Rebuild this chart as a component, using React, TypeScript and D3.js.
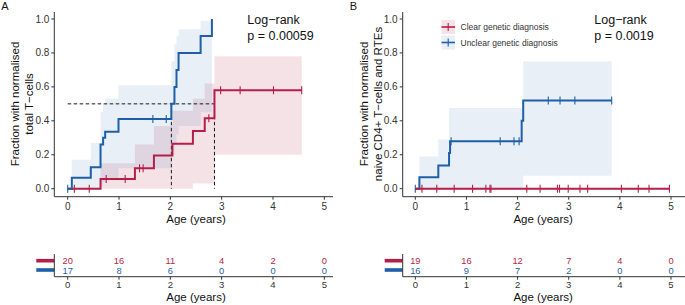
import * as d3 from "d3";

const RED = "#B51E48";
const BLUE = "#1E5FA8";
const FONT = "'Liberation Sans', Arial, Helvetica, sans-serif";

const ageTicks = [0, 1, 2, 3, 4, 5];
const fracTicks = [0, 0.2, 0.4, 0.6, 0.8, 1.0];

// Panel A: total T-cells
const aUnclearTimes = [0, 0.08, 0.45, 0.64, 0.69, 0.73, 0.99, 2.02, 2.08, 2.12, 2.16, 2.59, 2.81];
const aUnclearCum = [0, 0.065, 0.126, 0.26, 0.3, 0.335, 0.41, 0.5, 0.6, 0.7, 0.8, 0.9, 1.0];
const aUnclearUpper = [0, 0.17, 0.27, 0.45, 0.5, 0.53, 0.61, 0.75, 0.85, 0.9, 0.94, 0.99, 0.99];
const aUnclearLower = [0, 0, 0, 0.02, 0.04, 0.06, 0.12, 0.2, 0.27, 0.32, 0.37, 0.45, 0.45];
const aUnclearCensor = [0, 1.66, 1.92];

const aClearTimes = [0, 0.64, 1.31, 1.68, 2.04, 2.44, 2.67, 2.86, 4.56];
const aClearCum = [0, 0.057, 0.12, 0.195, 0.265, 0.34, 0.415, 0.58, 0.58];
const aClearUpper = [0, 0.15, 0.26, 0.37, 0.46, 0.53, 0.62, 0.78, 0.78];
const aClearLower = [0, 0, 0, 0, 0, 0.03, 0.03, 0.2, 0.2];
const aClearCensor = [0.13, 0.42, 0.75, 1.12, 1.4, 1.47, 2.75, 2.98, 3.36, 4.01, 4.56];

const aMedians = [2.02, 2.86];
const aRiskClear = [20, 16, 11, 4, 2, 0];
const aRiskUnclear = [17, 8, 6, 0, 0, 0];

// Panel B: naive CD4+ T-cells and RTEs
const bUnclearTimes = [0, 0.08, 0.45, 0.66, 0.68, 2.08, 2.11, 3.84];
const bUnclearCum = [0, 0.067, 0.136, 0.21, 0.28, 0.4, 0.52, 0.52];
const bUnclearUpper = [0, 0.19, 0.29, 0.475, 0.475, 0.475, 0.75, 0.75];
const bUnclearLower = [0, 0, 0, 0, 0, 0, 0.077, 0.077];
const bUnclearCensor = [0, 0.7, 1.66, 1.93, 2.03, 2.6, 2.83, 3.12, 3.84];

const bClearTimes = [0, 4.97];
const bClearCum = [0, 0];
const bClearCensor = [0.13, 0.42, 0.76, 1.12, 1.38, 1.46, 1.48, 2.18, 2.44, 2.78, 2.82, 2.99, 3.22, 3.37, 4.03, 4.36, 4.57, 4.97];

const bRiskClear = [19, 16, 12, 7, 4, 0];
const bRiskUnclear = [16, 9, 7, 2, 0, 0];

type Curve = {
  times: number[];
  cum: number[];
  upper?: number[];
  lower?: number[];
  censor: number[];
  color: string;
  bandOpacity?: number;
};

function stepValue(times: number[], cum: number[], t: number) {
  let v = cum[0];
  for (let i = 0; i < times.length; i++) if (times[i] <= t) v = cum[i];
  return v;
}

interface PanelProps {
  label: string;
  axisX: number;
  x0: number;
  x5: number;
  axisEnd: number;
  title: string[];
  pvalue: string;
  curves: Curve[];
  medians?: number[];
  riskClear: number[];
  riskUnclear: number[];
  legend?: boolean;
}

function Panel(p: PanelProps) {
  const x = d3.scaleLinear().domain([0, 5]).range([p.x0, p.x5]);
  const y = d3.scaleLinear().domain([0, 1]).range([188.7, 19]);
  const axisY = 196.7;

  const line = d3
    .line<[number, number]>()
    .x((d) => x(d[0]))
    .y((d) => y(d[1]))
    .curve(d3.curveStepAfter);
  const area = d3
    .area<[number, number, number]>()
    .x((d) => x(d[0]))
    .y0((d) => y(d[1]))
    .y1((d) => y(d[2]))
    .curve(d3.curveStepAfter);

  const tableAxisY = 276.7;

  return (
    <g fontFamily={FONT}>
      <text x={p.axisX - 53} y={10} fontSize={11} fill="#111">
        {p.label}
      </text>

      {/* confidence bands */}
      {p.curves.map((c, i) =>
        c.upper && c.lower ? (
          <path
            key={"b" + i}
            d={area(c.times.map((t, j) => [t, c.lower![j], c.upper![j]])) || ""}
            fill={c.color}
            fillOpacity={c.bandOpacity ?? 0.1}
            stroke="none"
          />
        ) : null,
      )}

      {/* median lines */}
      {p.medians && (
        <g stroke="#000" strokeWidth={0.9} strokeDasharray="3.5,2.5" fill="none">
          <line x1={x(0)} x2={x(d3.max(p.medians)!)} y1={y(0.5)} y2={y(0.5)} />
          {p.medians.map((m, i) => (
            <line key={i} x1={x(m)} x2={x(m)} y1={y(0.5)} y2={y(0)} />
          ))}
        </g>
      )}

      {/* curves */}
      {p.curves.map((c, i) => (
        <g key={"c" + i}>
          <path
            d={line(c.times.map((t, j) => [t, c.cum[j]])) || ""}
            fill="none"
            stroke={c.color}
            strokeWidth={2}
          />
          {c.censor.map((t, j) => {
            const v = stepValue(c.times, c.cum, t);
            return (
              <line
                key={j}
                x1={x(t)}
                x2={x(t)}
                y1={y(v) - 4}
                y2={y(v) + 4}
                stroke={c.color}
                strokeWidth={1.1}
              />
            );
          })}
        </g>
      ))}

      {/* axes */}
      <g stroke="#333" strokeWidth={1} fill="none">
        <line x1={p.axisX} x2={p.axisX} y1={12} y2={axisY} />
        <line x1={p.axisX} x2={p.axisEnd} y1={axisY} y2={axisY} />
        {fracTicks.map((t) => (
          <line key={t} x1={p.axisX - 3} x2={p.axisX} y1={y(t)} y2={y(t)} />
        ))}
        {ageTicks.map((t) => (
          <line key={t} x1={x(t)} x2={x(t)} y1={axisY} y2={axisY + 3} />
        ))}
      </g>
      <g fontSize={10} fill="#333">
        {fracTicks.map((t) => (
          <text key={t} x={p.axisX - 5} y={y(t) + 3.5} textAnchor="end">
            {t.toFixed(1)}
          </text>
        ))}
        {ageTicks.map((t) => (
          <text key={t} x={x(t)} y={axisY + 13} textAnchor="middle">
            {t}
          </text>
        ))}
      </g>
      <text x={(p.x0 + p.x5) / 2} y={223} fontSize={11.5} textAnchor="middle" fill="#111">
        Age (years)
      </text>
      <g fontSize={11.5} textAnchor="middle" fill="#111">
        {p.title.map((s, i) => (
          <text
            key={i}
            transform={`translate(${p.axisX - 35 + i * 14},104) rotate(-90)`}
          >
            {s}
          </text>
        ))}
      </g>

      {/* log-rank */}
      <text x={x(3.5)} y={23.5} fontSize={12.5} fill="#111">
        Log−rank
      </text>
      <text x={x(3.5)} y={39.5} fontSize={12.5} fill="#111">
        {p.pvalue}
      </text>

      {p.legend && (
        <g fontSize={8.5}>
          {[
            { c: RED, t: "Clear genetic diagnosis", yy: 27, o: 0.13 },
            { c: BLUE, t: "Unclear genetic diagnosis", yy: 42.5, o: 0.1 },
          ].map((l) => (
            <g key={l.t}>
              <rect x={441.5} y={l.yy - 7} width={13.5} height={14} fill={l.c} fillOpacity={l.o} />
              <line x1={441.5} x2={455} y1={l.yy} y2={l.yy} stroke={l.c} strokeWidth={1.6} />
              <line x1={448.2} x2={448.2} y1={l.yy - 4} y2={l.yy + 4} stroke={l.c} strokeWidth={1.1} />
              <text x={460.5} y={l.yy + 3} fill="#333">
                {l.t}
              </text>
            </g>
          ))}
        </g>
      )}

      {/* risk table */}
      <rect x={p.axisX - 18} y={258.9} width={18} height={3.6} fill={RED} />
      <rect x={p.axisX - 18} y={268.2} width={18} height={3.6} fill={BLUE} />
      <g stroke="#333" strokeWidth={1}>
        <line x1={p.axisX} x2={p.axisX} y1={254} y2={tableAxisY} />
        <line x1={p.axisX} x2={p.axisEnd} y1={tableAxisY} y2={tableAxisY} />
        {ageTicks.map((t) => (
          <line key={t} x1={x(t)} x2={x(t)} y1={tableAxisY} y2={tableAxisY + 3} />
        ))}
      </g>
      <g fontSize={9.3} textAnchor="middle">
        {p.riskClear.map((n, i) => (
          <text key={"r" + i} x={x(ageTicks[i])} y={264.3} fill={RED}>
            {n}
          </text>
        ))}
        {p.riskUnclear.map((n, i) => (
          <text key={"u" + i} x={x(ageTicks[i])} y={273.8} fill={BLUE}>
            {n}
          </text>
        ))}
      </g>
      <g fontSize={9.5} textAnchor="middle" fill="#333">
        {ageTicks.map((t) => (
          <text key={t} x={x(t)} y={tableAxisY + 11}>
            {t}
          </text>
        ))}
      </g>
      <text x={(p.x0 + p.x5) / 2} y={301} fontSize={11.5} textAnchor="middle" fill="#111">
        Age (years)
      </text>
    </g>
  );
}

export default function App() {
  return (
    <svg
      width={685}
      height={305}
      style={{ position: "absolute", left: 0, top: 0, background: "#fff" }}
    >
      <Panel
        label="A"
        axisX={54.3}
        x0={67.7}
        x5={324.3}
        axisEnd={333}
        title={["Fraction with normalised", "total T−cells"]}
        pvalue="p = 0.00059"
        curves={[
          { times: aClearTimes, cum: aClearCum, upper: aClearUpper, lower: aClearLower, censor: aClearCensor, color: RED, bandOpacity: 0.13 },
          { times: aUnclearTimes, cum: aUnclearCum, upper: aUnclearUpper, lower: aUnclearLower, censor: aUnclearCensor, color: BLUE },
        ]}
        medians={aMedians}
        riskClear={aRiskClear}
        riskUnclear={aRiskUnclear}
      />
      <Panel
        label="B"
        axisX={402.7}
        x0={415.3}
        x5={671}
        axisEnd={685}
        title={["Fraction with normalised", "naive CD4+ T−cells and RTEs"]}
        pvalue="p = 0.0019"
        curves={[
          { times: bUnclearTimes, cum: bUnclearCum, upper: bUnclearUpper, lower: bUnclearLower, censor: bUnclearCensor, color: BLUE },
          { times: bClearTimes, cum: bClearCum, censor: bClearCensor, color: RED },
        ]}
        riskClear={bRiskClear}
        riskUnclear={bRiskUnclear}
        legend
      />
    </svg>
  );
}
